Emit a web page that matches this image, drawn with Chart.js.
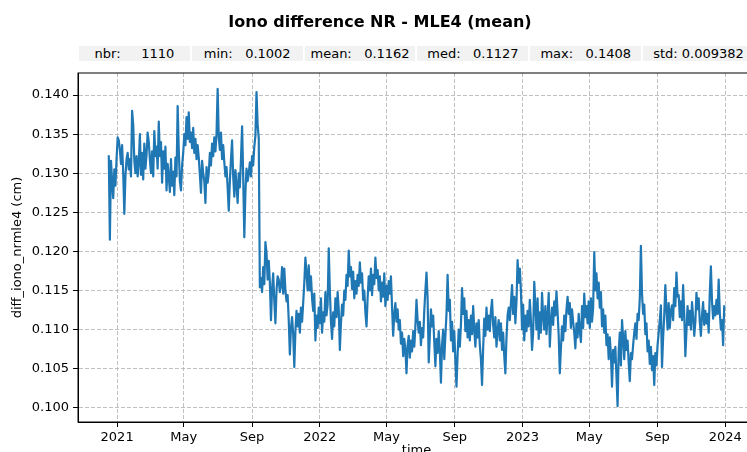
<!DOCTYPE html>
<html>
<head>
<meta charset="utf-8">
<script src="https://cdn.jsdelivr.net/npm/chart.js@4.4.1/dist/chart.umd.min.js"></script>
<style>
  html, body { margin: 0; padding: 0; overflow: hidden; background: #fff; }
  #wrap { position: relative; width: 760px; height: 460px; }
  #title { position: absolute; left: 0; top: 12px; width: 760px; line-height: 20px;
           text-align: center; font: bold 16px "DejaVu Sans"; color: #000; }
  #stats { position: absolute; left: 78px; top: 46px; width: 677px; height: 15px; display: flex; }
  #stats .cell { flex: 1; box-sizing: border-box; background: #f2f2f2; border-left: 1px solid #fff;
                 border-right: 1px solid #fff; font: 13px "DejaVu Sans"; line-height: 15px;
                 white-space: pre; text-align: center; color: #000; overflow: visible; }
  canvas { position: absolute; left: 0; top: 0; }
</style>
</head>
<body>
<div id="wrap">
  <canvas id="chart" width="760" height="460"></canvas>
  <div id="title">Iono difference NR - MLE4 (mean)</div>
  <div id="stats"></div>
</div>
<script>
// daily series sampled every second day, values in 1e-4 cm
const startDate = '2020-12-17';
const stepDays = 2;
const ionoDiff = [
  1323, 1215, 1316, 1290, 1268, 1305, 1284, 1318, 1346,
  1342, 1330, 1312, 1336, 1300, 1248, 1296, 1318, 1326,
  1305, 1318, 1296, 1380, 1362, 1316, 1300, 1322, 1296,
  1314, 1350, 1298, 1326, 1292, 1338, 1306, 1324, 1352,
  1340, 1318, 1300, 1328, 1296, 1354, 1322, 1334, 1306,
  1366, 1322, 1340, 1288, 1328, 1306, 1334, 1278, 1312,
  1296, 1276, 1318, 1284, 1302, 1272, 1320, 1296, 1386,
  1330, 1290, 1278, 1310, 1326, 1350, 1336, 1372, 1344,
  1378, 1340, 1352, 1332, 1358, 1326, 1344, 1318, 1336,
  1320, 1298, 1275, 1316, 1300, 1290, 1262, 1308, 1288,
  1300, 1326, 1310, 1338, 1322, 1346, 1328, 1350, 1408,
  1346, 1330, 1352, 1318, 1336, 1314, 1296, 1308, 1282,
  1252, 1290, 1318, 1342, 1296, 1270, 1304, 1284, 1262,
  1300, 1282, 1318, 1360, 1296, 1218, 1276, 1306, 1290,
  1300, 1314, 1296, 1322, 1310, 1334, 1348, 1404, 1362,
  1345, 1154, 1166, 1148, 1180, 1158, 1212, 1198, 1164,
  1188, 1160, 1112, 1152, 1172, 1136, 1108, 1150, 1168,
  1164, 1148, 1156, 1180, 1146, 1178, 1150, 1136, 1144,
  1112, 1068, 1102, 1116, 1094, 1052, 1098, 1124, 1104,
  1120, 1096, 1128, 1110, 1134, 1160, 1192, 1172, 1150,
  1182, 1150, 1168, 1140, 1124, 1146, 1086, 1118, 1102,
  1128, 1108, 1140, 1096, 1122, 1110, 1148, 1118, 1132,
  1204, 1150, 1110, 1088, 1122, 1104, 1140, 1116, 1148,
  1126, 1074, 1108, 1132, 1118, 1150, 1138, 1170, 1156,
  1201, 1168, 1180, 1152, 1174, 1140, 1162, 1146, 1170,
  1156, 1186, 1160, 1172, 1138, 1150, 1122, 1104, 1140,
  1168, 1150, 1178, 1144, 1170, 1158, 1192, 1166, 1176,
  1150, 1168, 1136, 1160, 1142, 1172, 1130, 1156, 1138,
  1162, 1146, 1168, 1128, 1092, 1120, 1134, 1110, 1126,
  1100, 1112, 1082, 1096, 1066, 1088, 1074, 1044, 1080,
  1092, 1064, 1086, 1072, 1098, 1078, 1104, 1138, 1112,
  1096, 1110, 1080, 1102, 1090, 1124, 1150, 1173, 1140,
  1058, 1092, 1126, 1104, 1118, 1084, 1053, 1088, 1070,
  1098, 1074, 1032, 1080, 1100, 1062, 1092, 1120, 1170,
  1124, 1138, 1086, 1110, 1072, 1098, 1060, 1027, 1068,
  1100, 1078, 1106, 1153, 1120, 1140, 1098, 1124, 1090,
  1112, 1086, 1118, 1094, 1130, 1100, 1078, 1108, 1090,
  1112, 1080, 1062, 1029, 1076, 1114, 1092, 1128, 1100,
  1118, 1098, 1124, 1138, 1106, 1090, 1116, 1078, 1100,
  1112, 1086, 1108, 1074, 1096, 1066, 1044, 1090, 1118,
  1128, 1112, 1134, 1157, 1120, 1142, 1108, 1136, 1189,
  1160, 1178, 1150, 1100, 1132, 1086, 1118, 1098, 1124,
  1104, 1138, 1112, 1074, 1096, 1161, 1130, 1100, 1140,
  1088, 1122, 1096, 1147, 1118, 1100, 1130, 1094, 1116,
  1147, 1078, 1110, 1128, 1106, 1136, 1118, 1149, 1122,
  1092, 1044, 1076, 1104, 1086, 1118, 1098, 1126, 1142,
  1120, 1134, 1102, 1126, 1110, 1096, 1076, 1108, 1090,
  1120, 1098, 1084, 1130, 1102, 1146, 1116, 1130, 1108,
  1136, 1102, 1140, 1110, 1128, 1199, 1150, 1172, 1140,
  1160, 1128, 1148, 1104, 1126, 1096, 1118, 1080, 1094,
  1062, 1090, 1068, 1027, 1074, 1058, 1078, 1040, 1002,
  1072, 1096, 1054, 1112, 1090, 1062, 1098, 1074, 1086,
  1058, 1034, 1070, 1062, 1080, 1096, 1108, 1088, 1120,
  1112, 1140, 1207, 1146, 1120, 1132, 1094, 1108, 1072,
  1086, 1056, 1078, 1048, 1066, 1029, 1070, 1054, 1080,
  1096, 1112, 1131, 1052, 1090, 1118, 1157, 1126, 1100,
  1134, 1102, 1124, 1131, 1112, 1153, 1130, 1173, 1142,
  1144, 1116, 1136, 1112, 1157, 1120, 1066, 1098, 1130,
  1106, 1124, 1100, 1135, 1116, 1092, 1110, 1147, 1126,
  1140, 1110, 1092, 1118, 1135, 1106, 1124, 1108, 1120,
  1096, 1147, 1181, 1136, 1114, 1130, 1118, 1138, 1120,
  1164, 1122, 1100, 1112, 1080, 1131
];

const xTickDates = ['2021-01-01', '2021-05-01', '2021-09-01', '2022-01-01', '2022-05-01',
                    '2022-09-01', '2023-01-01', '2023-05-01', '2023-09-01', '2024-01-01'];
const xTickLabels = ['2021', 'May', 'Sep', '2022', 'May', 'Sep', '2023', 'May', 'Sep', '2024'];
const yTicks = [0.100, 0.105, 0.110, 0.115, 0.120, 0.125, 0.130, 0.135, 0.140];

const statNames = ['nbr:', 'min:', 'mean:', 'med:', 'max:', 'std:'];
const statValues = ['1110', '0.1002', '0.1162', '0.1127', '0.1408', '0.009382'];

// stats strip above the axes
const statsEl = document.getElementById('stats');
statNames.forEach((name, i) => {
  const cell = document.createElement('div');
  cell.className = 'cell';
  cell.textContent = name + ' ' + statValues[i].padStart(8);
  statsEl.appendChild(cell);
});

const DAY = 86400000;
const t0 = Date.parse(startDate);
const points = ionoDiff.map((v, i) => ({ x: t0 + i * stepDays * DAY, y: v / 1e4 }));

// 5% margins around the data, like matplotlib autoscaling
const xs = points.map(p => p.x), ys = points.map(p => p.y);
const xLo = Math.min(...xs), xHi = Math.max(...xs);
const yLo = Math.min(...ys), yHi = Math.max(...ys);
const xPad = (xHi - xLo) * 0.05, yPad = (yHi - yLo) * 0.05;

Chart.defaults.font.family = '"DejaVu Sans"';
Chart.defaults.font.size = 13;
Chart.defaults.color = '#000';

const frame = {
  id: 'frame',
  afterDraw(chart) {
    const { ctx, chartArea: a } = chart;
    ctx.save();
    ctx.strokeStyle = '#000';
    ctx.lineWidth = 1;
    ctx.strokeRect(a.left, a.top, a.right - a.left, a.bottom - a.top);
    ctx.restore();
  }
};

const gridOpts = {
  color: '#b0b0b0',
  lineWidth: 0.8,
  tickColor: '#000',
  tickWidth: 1,
  tickLength: 5,
  tickBorderDash: []
};

new Chart(document.getElementById('chart'), {
  type: 'line',
  data: {
    datasets: [{
      data: points,
      borderColor: '#1f77b4',
      borderWidth: 2.2,
      borderJoinStyle: 'round',
      pointRadius: 0,
      tension: 0,
      fill: false
    }]
  },
  options: {
    responsive: false,
    animation: false,
    layout: { padding: { top: 73, right: 5, left: 0, bottom: 0 } },
    plugins: { legend: { display: false }, tooltip: { enabled: false }, title: { display: false } },
    scales: {
      x: {
        type: 'linear',
        min: xLo - xPad,
        max: xHi + xPad,
        afterBuildTicks: scale => { scale.ticks = xTickDates.map(d => ({ value: Date.parse(d) })); },
        afterFit: scale => { scale.height = 38; },
        ticks: {
          autoSkip: false,
          maxRotation: 0,
          padding: 3,
          callback: (v, i) => xTickLabels[i]
        },
        grid: gridOpts,
        border: { display: true, color: '#000', width: 1, dash: [4, 2] },
        title: { display: true, text: 'time', padding: { top: 0, bottom: 2 } }
      },
      y: {
        type: 'linear',
        min: yLo - yPad,
        max: yHi + yPad,
        afterBuildTicks: scale => { scale.ticks = yTicks.map(v => ({ value: v })); },
        afterFit: scale => { scale.width = 78; },
        ticks: {
          padding: 4,
          callback: v => v.toFixed(3)
        },
        grid: gridOpts,
        border: { display: true, color: '#000', width: 1, dash: [4, 2] },
        title: { display: true, text: 'diff_iono_nrmle4 (cm)', padding: { top: 10, bottom: 0 } }
      }
    }
  },
  plugins: [frame]
});
</script>
</body>
</html>
